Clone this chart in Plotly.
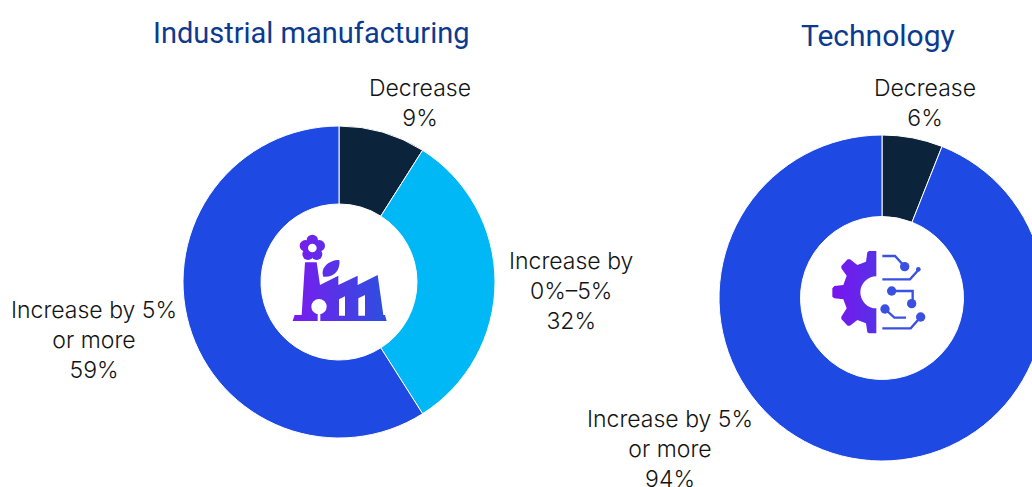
import base64
import plotly.graph_objects as go

# Canvas is wider than the page so the right-hand donut runs off the edge
CANVAS_W = 1060
CANVAS_H = 487

segment_colors = {"Decrease": "#0c233c", "Increase by 0%–5%": "#00b8f5", "Increase by 5% or more": "#1e49e2"}

industrial_labels = ["Decrease", "Increase by 0%–5%", "Increase by 5% or more"]
industrial_values = [9, 32, 59]
technology_labels = ["Decrease", "Increase by 5% or more"]
technology_values = [6, 94]

industrial_text = ["Decrease", "Increase by<br>0%–5%", "Increase by 5%<br>or more"]
technology_text = ["Decrease", "Increase by 5%<br>or more"]

TITLE_COLOR = "#0b3a8f"
LABEL_COLOR = "#141414"
TITLE_FONT = "Roboto"
LABEL_FONT = "Inter"


def xp(px):
    return px / CANVAS_W


def yp(py):
    return 1 - py / CANVAS_H


def donut(labels, values, left, right, top, bottom, name):
    return go.Pie(
        labels=labels,
        values=values,
        name=name,
        hole=0.5,
        sort=False,
        direction="clockwise",
        rotation=0,
        textinfo="none",
        showlegend=False,
        marker=dict(colors=[segment_colors[l] for l in labels], line=dict(color="white", width=1)),
        domain=dict(x=[xp(left), xp(right)], y=[yp(bottom), yp(top)]),
    )


def caption(text, value, cx, cy):
    return dict(
        text=f"{text}<br>{value}%",
        x=xp(cx), y=yp(cy), xref="paper", yref="paper",
        xanchor="center", yanchor="middle", align="center", showarrow=False,
        font=dict(family=LABEL_FONT, size=23, color=LABEL_COLOR, weight=300),
    )


def heading(text, cx, cy, size):
    return dict(
        text=text, x=xp(cx), y=yp(cy), xref="paper", yref="paper",
        xanchor="center", yanchor="middle", showarrow=False,
        font=dict(family=TITLE_FONT, size=size, color=TITLE_COLOR),
    )


FACTORY_SVG = """<svg xmlns="http://www.w3.org/2000/svg" width="480" height="420" viewBox="0 0 480 420">
<defs><linearGradient id="g" gradientUnits="userSpaceOnUse" x1="98" y1="0" x2="380" y2="0">
<stop offset="0" stop-color="#7a1bee"/><stop offset="1" stop-color="#2b50e0"/></linearGradient></defs>
<g fill="url(#g)">
<path d="M135 172H170L180 240L235 212V240L293 212V240L353 210L370 330H375L380 348H98L104 330H125Z"/>
<path d="M190 215C180 190 205 165 238 165C242 195 222 218 190 215Z"/>
<circle cx="157" cy="106" r="17"/><circle cx="136" cy="122" r="17"/><circle cx="178" cy="122" r="17"/>
<circle cx="144" cy="148" r="17"/><circle cx="170" cy="148" r="17"/>
</g>
<circle cx="157" cy="129" r="13" fill="#fff"/>
<circle cx="177" cy="305" r="23" fill="#fff"/>
<rect x="173" y="320" width="8" height="30" fill="#fff"/>
<path d="M237 283L255 274V332H237Z" fill="#fff"/>
<path d="M295 280L315 270V332H295Z" fill="#fff"/>
</svg>"""

CIRCUIT_SVG = """<svg xmlns="http://www.w3.org/2000/svg" width="480" height="420" viewBox="0 0 480 420">
<defs><linearGradient id="g" gradientUnits="userSpaceOnUse" x1="97" y1="0" x2="380" y2="0">
<stop offset="0" stop-color="#7a14ee"/><stop offset="1" stop-color="#2f52e2"/></linearGradient></defs>
<path fill="url(#g)" fill-rule="evenodd" d="M229 108H207L202 112L198 140L172 150L150 133H143L124 153V160L140 182L130 210L103 213L97 220V245L103 250L130 253L140 280L124 305V312L143 332H150L172 315L198 325L202 352L207 355H229V280A48 48 0 0 1 229 184Z"/>
<g fill="none" stroke="#3a50e2" stroke-width="7">
<path d="M247 123H285L310 150"/><path d="M247 193H330L355 165"/>
<path d="M275 228H338V265"/><path d="M255 282L283 308H318"/><path d="M247 340H332L360 308"/>
</g>
<g fill="#3a50e2">
<circle cx="314" cy="155" r="14"/><circle cx="355" cy="163" r="7"/><circle cx="275" cy="228" r="14"/>
<circle cx="335" cy="266" r="14"/><circle cx="255" cy="282" r="14"/><circle cx="362" cy="306" r="14"/>
</g>
</svg>"""


def icon(svg, left, top):
    encoded = base64.b64encode(svg.encode()).decode()
    return dict(
        source="data:image/svg+xml;base64," + encoded,
        xref="paper", yref="paper", x=xp(left), y=yp(top),
        sizex=160 / CANVAS_W, sizey=140 / CANVAS_H,
        xanchor="left", yanchor="top", sizing="stretch", layer="above",
    )


fig = go.Figure()
fig.add_trace(donut(industrial_labels, industrial_values, 183, 495, 126, 438, "Industrial manufacturing"))
fig.add_trace(donut(technology_labels, technology_values, 719, 1045, 135, 461, "Technology"))

annotations = [
    heading("Industrial manufacturing", 311, 33, 29),
    heading("Technology", 878, 36, 30),
    caption(industrial_text[0], industrial_values[0], 420, 103),
    caption(industrial_text[1], industrial_values[1], 571, 291),
    caption(industrial_text[2], industrial_values[2], 94, 340),
    caption(technology_text[0], technology_values[0], 925, 103),
    caption(technology_text[1], technology_values[1], 670, 449),
]

fig.update_layout(
    width=CANVAS_W,
    height=CANVAS_H,
    margin=dict(l=0, r=0, t=0, b=0),
    paper_bgcolor="white",
    annotations=annotations,
    images=[icon(FACTORY_SVG, 260, 205), icon(CIRCUIT_SVG, 800, 215)],
)

fig.write_html(
    "out.html",
    config={"displayModeBar": False},
    post_script="document.documentElement.style.overflow='hidden';document.body.style.overflow='hidden';",
)
